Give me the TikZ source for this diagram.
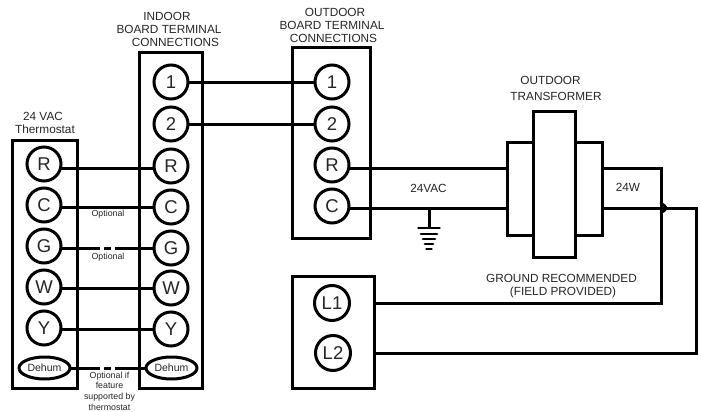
\documentclass[tikz,border=0pt]{standalone}
\usepackage{fontspec}
\setmainfont{Liberation Sans}
\usetikzlibrary{shapes.geometric}
\begin{document}
\begin{tikzpicture}[x=1pt,y=-1pt,
  box/.style={draw,rectangle,line width=3pt,inner sep=0pt,outer sep=0pt},
  term/.style={draw,circle,line width=3pt,minimum size=34pt,inner sep=0pt,outer sep=0pt,font=\fontsize{18.5}{18.5}\selectfont,text=black!85,fill=white},
  oval/.style={draw,ellipse,line width=3pt,minimum width=51pt,minimum height=22pt,inner sep=0pt,outer sep=0pt,font=\fontsize{10.5}{10.5}\selectfont,text=black!85,fill=white},
  wire/.style={line width=3pt},
  gbar/.style={line width=2.8pt,line cap=round},
  lab/.style={font=\fontsize{11.8}{13}\selectfont,align=center,text=black!85,inner sep=0pt},
  small/.style={font=\fontsize{8.8}{10.7}\selectfont,align=center,text=black!85,inner sep=0pt}]
\useasboundingbox (0,0) rectangle (701,412);
% boxes
\node[box,minimum width=65pt,minimum height=248pt] (tbox) at (44.5,264) {};
\node[box,minimum width=63pt,minimum height=335pt] (ibox) at (170.5,220.5) {};
\node[box,minimum width=78pt,minimum height=190pt] (obox) at (331.5,143) {};
\node[box,minimum width=82pt,minimum height=112pt] (lbox) at (333,332) {};
\node[box,minimum width=26pt,minimum height=93pt] (xl) at (520,188.5) {};
\node[box,minimum width=27pt,minimum height=93pt] (xr) at (588.5,188.5) {};
\node[box,minimum width=42pt,minimum height=146pt,fill=white] (xm) at (554,184) {};
% thermostat terminals
\node[term] (tR) at (44,164) {R};
\node[term] (tC) at (44,205) {C};
\node[term] (tG) at (44,246) {G};
\node[term] (tW) at (44,287) {W};
\node[term] (tY) at (44,328) {Y};
\node[oval] (tD) at (44.5,368) {Dehum};
% indoor terminals
\node[term] (i1) at (171,82) {1};
\node[term] (i2) at (171,124) {2};
\node[term] (iR) at (171,166) {R};
\node[term] (iC) at (171,207) {C};
\node[term] (iG) at (171,248) {G};
\node[term] (iW) at (171,288) {W};
\node[term] (iY) at (171,329) {Y};
\node[oval] (iD) at (171.5,368) {Dehum};
% outdoor terminals
\node[term] (o1) at (332,82) {1};
\node[term] (o2) at (332,124) {2};
\node[term] (oR) at (332,165) {R};
\node[term] (oC) at (332,206) {C};
\node[term,minimum size=35pt] (L1) at (332,303) {L1};
\node[term,minimum size=35pt] (L2) at (333,353) {L2};
% wires
\draw[wire] (i1.east) -- (o1.west);
\draw[wire] (i2.east) -- (o2.west);
\draw[wire] (iR.west |- 0,168) -- (tR.east |- 0,168);
\draw[wire] (iC.west) -- (iC.west -| tC.east);
\draw[wire] (iW.west) -- (iW.west -| tW.east);
\draw[wire] (iY.west) -- (iY.west -| tY.east);
\draw[wire,dash pattern=on 38.5pt off 4pt on 7.5pt off 3.5pt on 50pt] (iG.west -| tG.east) -- (iG.west);
\draw[wire,dash pattern=on 30pt off 3.5pt on 7.5pt off 3.5pt on 50pt] (tD.east) -- (iD.west);
\coordinate (ropt) at (xl.west |- 0,168);
\coordinate (copt) at (xl.west |- 0,208);
\draw[wire] (oR.east |- ropt) -- (ropt);
\draw[wire] (oC.east |- copt) -- (copt);
% secondary
\coordinate (rs) at (xr.east |- 0,168);
\coordinate (cs) at (xr.east |- 0,208);
\coordinate (l1e) at (lbox.east |- L1);
\coordinate (l2e) at (lbox.east |- L2);
\draw[wire,line join=miter] (rs) -- (661,168) -- (661,303) -- (l1e);
\draw[wire,line join=miter] (cs) -- (696,208) -- (696,353) -- (l2e);
\draw[wire,line cap=round] (661,203.5) .. controls (664,204) and (665,207) .. (666,208) .. controls (665,209) and (664,212) .. (661,212.5);
% ground
\coordinate (g) at (429,208);
\draw[wire] (g) -- (429,228);
\draw[gbar] (418.5,228) -- (439.5,228);
\draw[gbar] (421,234) -- (437,234);
\draw[gbar] (423,239) -- (435,239);
\draw[gbar] (425,244) -- (433,244);
\draw[gbar] (426.5,249) -- (431.5,249);
% labels
\node[lab] (t1a) at (167,16) {INDOOR};
\node[lab] (t1b) at (169,29) {BOARD TERMINAL};
\node[lab] (t1c) at (175.5,42.5) {CONNECTIONS};
\node[lab] (t2a) at (335,12) {OUTDOOR};
\node[lab] (t2b) at (332,25) {BOARD TERMINAL};
\node[lab] (t2c) at (333.5,38) {CONNECTIONS};
\node[lab] (t3a) at (550.5,80) {OUTDOOR};
\node[lab] (t3b) at (556,96) {TRANSFORMER};
\node[lab] (t4a) at (43,116) {24 VAC};
\node[lab] (t4b) at (45,129) {Thermostat};
\node[lab] (t5) at (428.5,188.5) {24VAC};
\node[lab] (t6) at (628,187.5) {24W};
\node[lab] (t7a) at (561.5,278) {GROUND RECOMMENDED};
\node[lab] (t7b) at (563,292) {(FIELD PROVIDED)};
\node[small] (o1l) at (108,214) {Optional};
\node[small] (o2l) at (108,257) {Optional};
\node[small] (o3l) at (109.5,391) {Optional if\\feature\\supported by\\thermostat};
\end{tikzpicture}
\end{document}
